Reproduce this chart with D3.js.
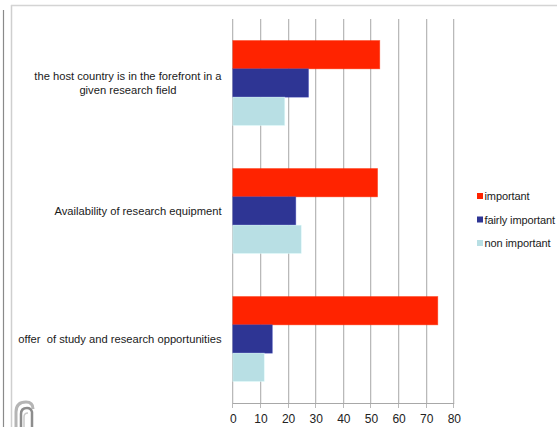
<!DOCTYPE html>
<html>
<head>
<meta charset="utf-8">
<script src="https://cdn.jsdelivr.net/npm/d3@7/dist/d3.min.js"></script>
<style>
  html, body { margin: 0; padding: 0; background: #fff; overflow: hidden; }
  svg { display: block; font-family: "Liberation Sans", Arial, sans-serif; }
  text { white-space: pre; }
</style>
</head>
<body>
<svg id="chart" width="557" height="427"></svg>
<script>
// Reasons for choosing a host country (percent of respondents)
const categories = [
  ["the host country is in the forefront in a", "given research field"],
  ["Availability of research equipment"],
  ["offer  of study and research opportunities"]
];
const seriesNames = ["important", "fairly important", "non important"];
const important       = [53.2, 52.4, 74.2];
const fairlyImportant = [27.4, 22.8, 14.3];
const nonImportant    = [18.8, 24.8, 11.4];
const xTicks = [0, 10, 20, 30, 40, 50, 60, 70, 80];
const colors = ["#ff2300", "#2e3594", "#b8dfe4"];

const seriesValues = [important, fairlyImportant, nonImportant];
const svg = d3.select("#chart");

// page frame
svg.append("line").attr("x1", 3.5).attr("x2", 3.5).attr("y1", 10).attr("y2", 427)
  .attr("stroke", "#8a8a8a").attr("stroke-width", 1.2);
svg.append("line").attr("x1", 11.5).attr("x2", 11.5).attr("y1", 5).attr("y2", 427)
  .attr("stroke", "#cfcfcf").attr("stroke-width", 1.5);
svg.append("line").attr("x1", 11).attr("x2", 557).attr("y1", 5.5).attr("y2", 5.5)
  .attr("stroke", "#d4d4d4").attr("stroke-width", 1.5);

const plot = { left: 232.3, right: 453.3, top: 19, bottom: 403 };
const x = d3.scaleLinear().domain([0, 80]).range([plot.left, plot.right]);
const catIdx = d3.range(categories.length);
const y0 = d3.scaleBand().domain(catIdx).range([plot.top, plot.bottom]).padding(0);
const y1 = d3.scaleBand().domain(d3.range(seriesNames.length))
  .range([0, y0.bandwidth()]).paddingInner(0).paddingOuter(0.76);

// vertical gridlines with ticks below the axis
const grid = svg.append("g");
grid.selectAll("line.shadow").data(xTicks).join("line").attr("class", "shadow")
  .attr("x1", d => Math.round(x(d)) + 1.5).attr("x2", d => Math.round(x(d)) + 1.5)
  .attr("y1", plot.top).attr("y2", plot.bottom)
  .attr("stroke", "#ececec").attr("stroke-width", 1);
grid.selectAll("line.main").data(xTicks).join("line").attr("class", "main")
  .attr("x1", d => Math.round(x(d)) + 0.5).attr("x2", d => Math.round(x(d)) + 0.5)
  .attr("y1", plot.top).attr("y2", plot.bottom + 5)
  .attr("stroke", "#b9b9b9").attr("stroke-width", 1);

// bottom axis
const xAxis = d3.axisBottom(x).tickValues(xTicks).tickSize(0).tickPadding(0);
const axisG = svg.append("g").attr("transform", `translate(0.5,${plot.bottom + 0.5})`).call(xAxis);
axisG.select(".domain").attr("stroke", "#a8a8a8").attr("d", `M${plot.left},0H${plot.right + 0.5}`);
axisG.selectAll("text").attr("font-size", 12).attr("fill", "#222")
  .attr("font-family", "Liberation Sans, Arial, sans-serif").attr("dy", 0).attr("y", 19.5);

// bars
seriesValues.forEach((vals, s) => {
  svg.append("g").selectAll("rect").data(vals).join("rect")
    .attr("x", x(0) + 0.5)
    .attr("y", (d, i) => y0(i) + y1(s))
    .attr("width", d => x(d) - x(0))
    .attr("height", y1.bandwidth())
    .attr("fill", colors[s])
    .attr("stroke", d3.color(colors[s]).brighter(0.6))
    .attr("stroke-opacity", 0.5)
    .attr("stroke-width", 0.8);
});

// category labels: multi-line blocks, lines centred inside a right-aligned block
const labelRight = 221.5;
const lineH = 14;
categories.forEach((lines, i) => {
  const cy = y0(i) + y0.bandwidth() / 2;
  const g = svg.append("g");
  const texts = lines.map((ln, k) => g.append("text")
    .attr("font-size", 11.2).attr("fill", "#1a1a1a")
    .attr("text-anchor", "middle")
    .attr("y", cy + (k - (lines.length - 1) / 2) * lineH + 4)
    .text(ln));
  const w = d3.max(texts, t => t.node().getComputedTextLength());
  texts.forEach(t => t.attr("x", labelRight - w / 2));
});

// legend
const legend = svg.append("g");
seriesNames.forEach((name, s) => {
  const cy = 196 + s * 23.5;
  legend.append("rect").attr("x", 477).attr("y", cy - 3).attr("width", 6).attr("height", 6)
    .attr("fill", colors[s]);
  legend.append("text").attr("x", 484.5).attr("y", cy + 4.3)
    .attr("font-size", 11).attr("letter-spacing", -0.1).attr("fill", "#1a1a1a").text(name);
});

// small institutional mark in the lower-left corner
const logo = svg.append("g").attr("fill", "none").attr("stroke-linecap", "butt");
logo.append("path").attr("d", "M16,427 V412 Q16,402 26,402 Q33,402 33,409")
  .attr("stroke", "#b5b5b5").attr("stroke-width", 3);
logo.append("path").attr("d", "M21,427 V414 Q21,408 27,408 Q31,408 32,412 V427")
  .attr("stroke", "#8d8d8d").attr("stroke-width", 2.5);
logo.append("path").attr("d", "M24,427 V417 Q24,413 28,413")
  .attr("stroke", "#c9c9c9").attr("stroke-width", 1.5);
</script>
</body>
</html>
